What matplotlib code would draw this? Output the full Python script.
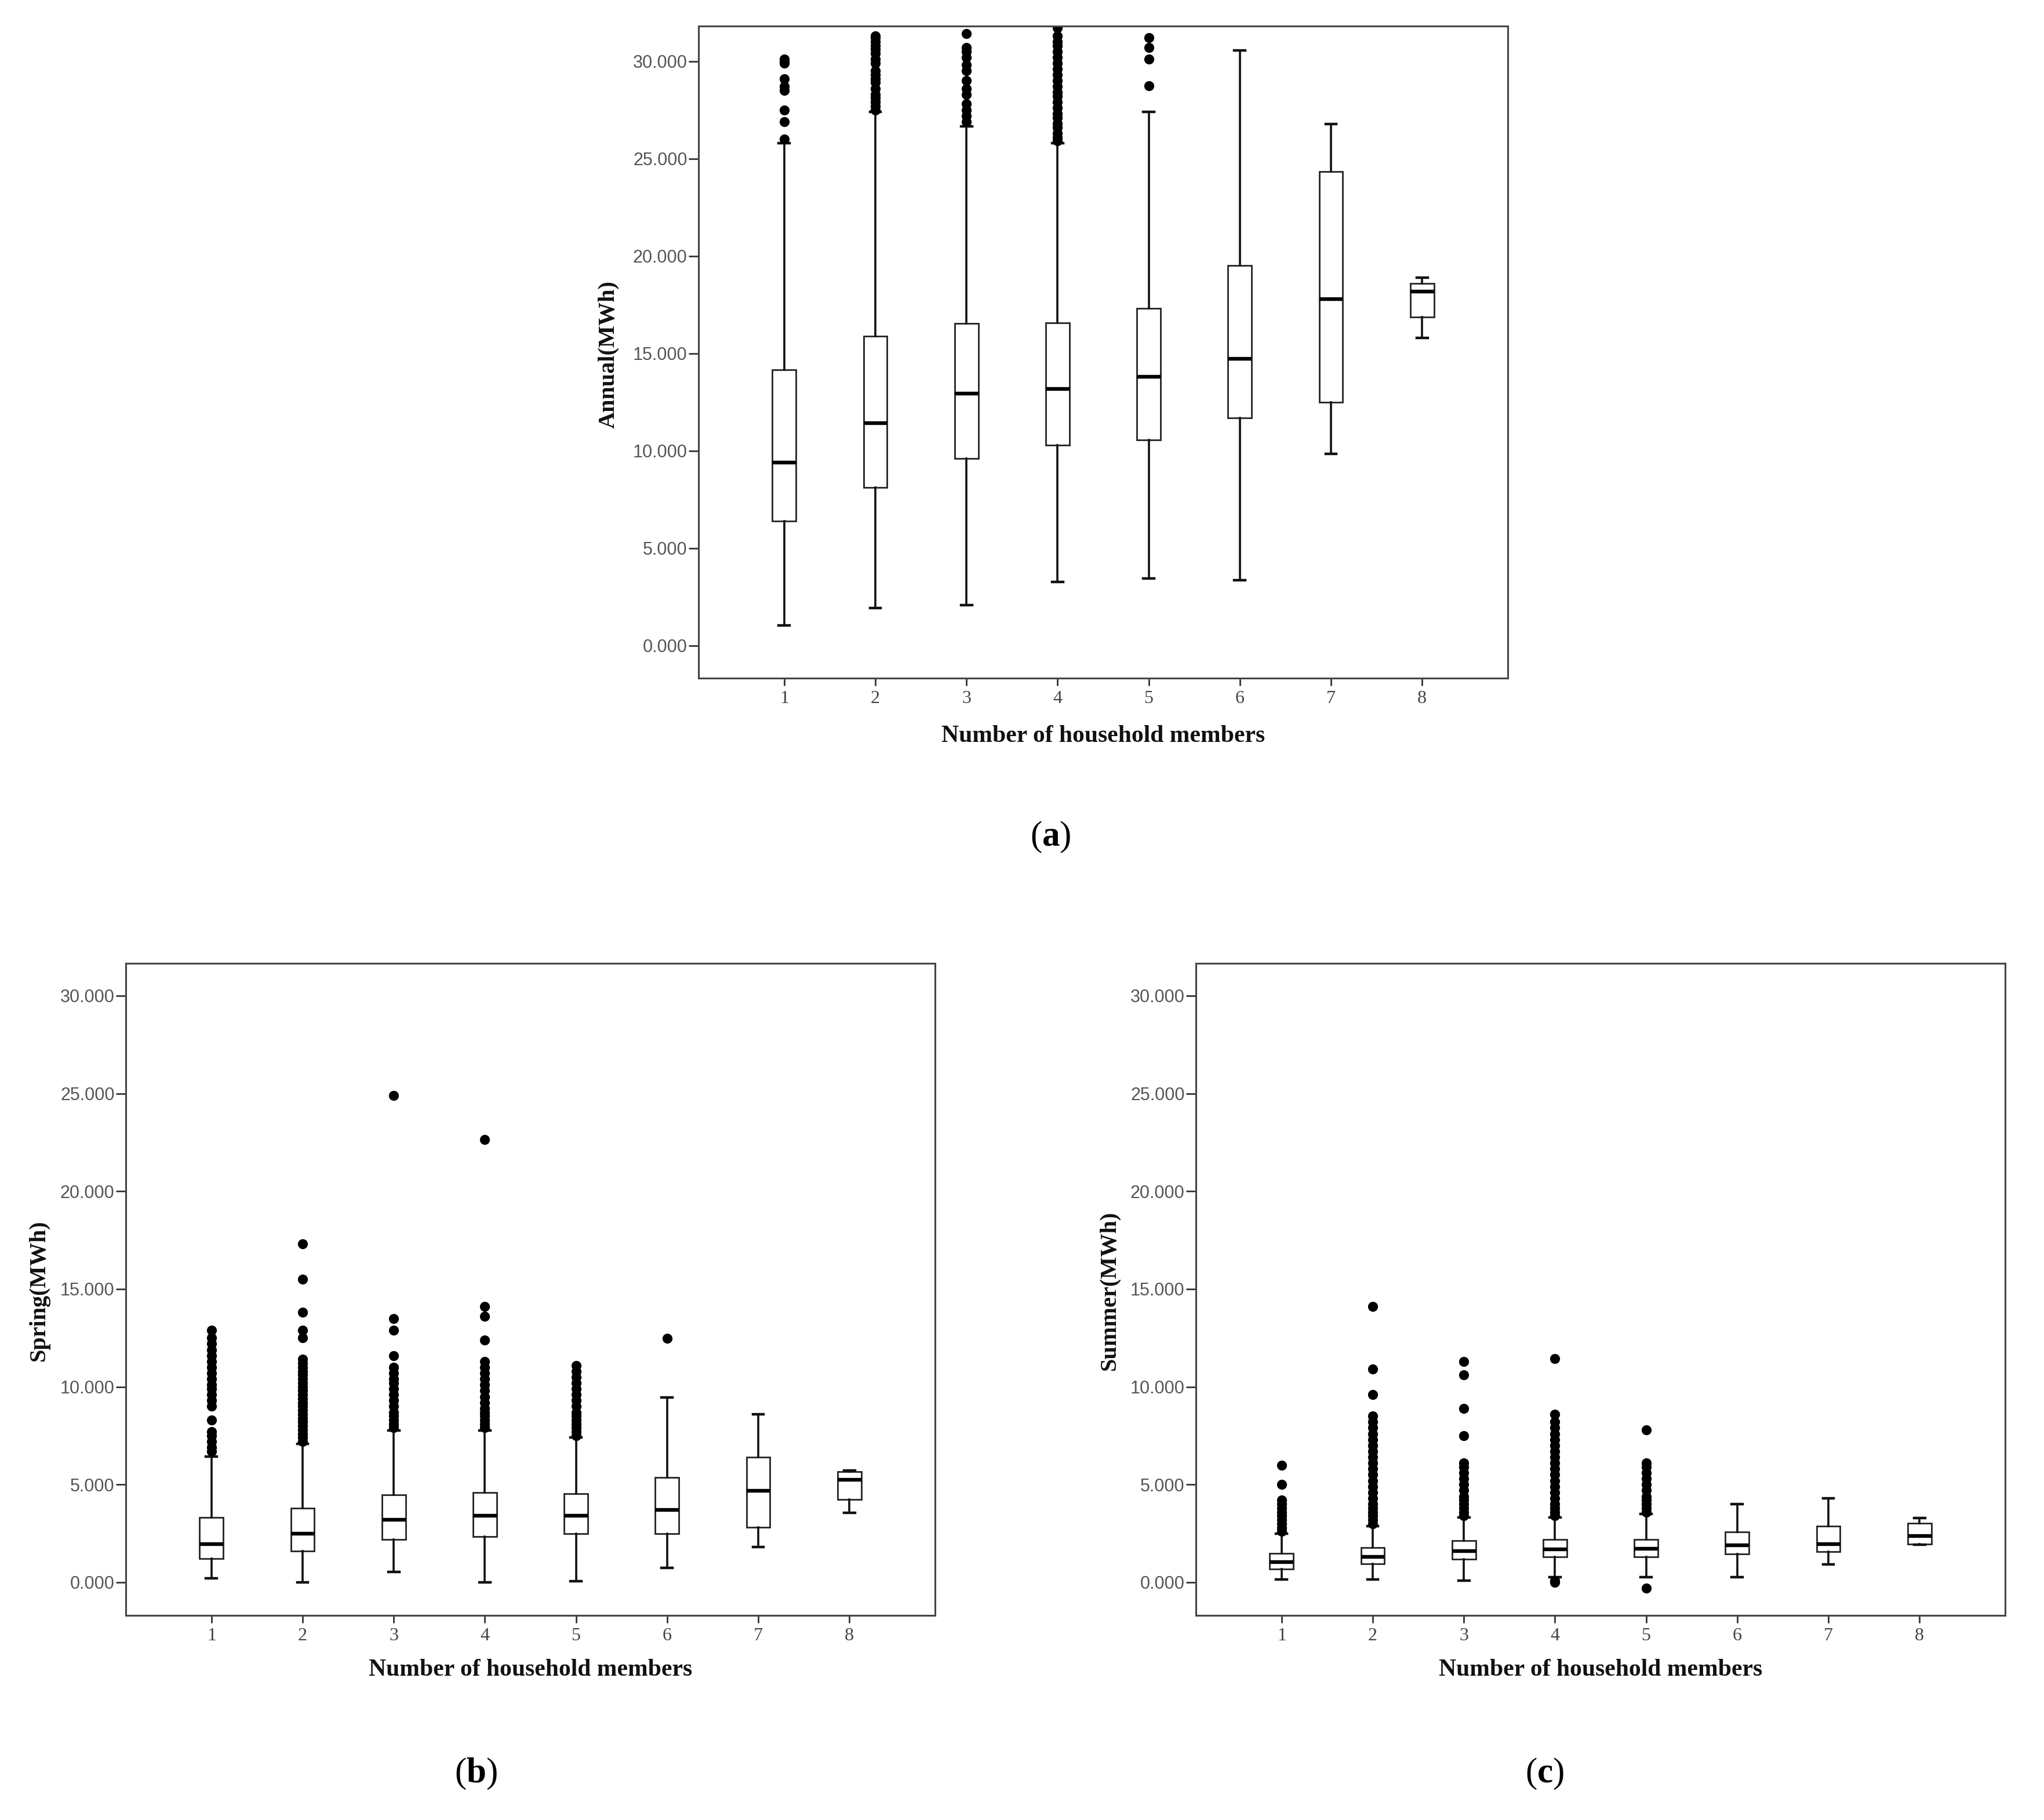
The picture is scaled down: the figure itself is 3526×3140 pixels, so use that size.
import matplotlib
matplotlib.use("Agg")
import matplotlib.pyplot as plt
from matplotlib.ticker import FormatStrFormatter

plt.rcParams['mathtext.fontset'] = 'custom'
plt.rcParams['mathtext.bf'] = 'Liberation Serif:bold'
plt.rcParams['mathtext.rm'] = 'Liberation Serif'

categories = [1, 2, 3, 4, 5, 6, 7, 8]
yticks = [0, 5, 10, 15, 20, 25, 30]

# ---- (a) Annual (MWh) ----
annual_whislo = [1.04, 1.92, 2.08, 3.28, 3.44, 3.37, 9.83, 15.78]
annual_q1 = [6.38, 8.13, 9.60, 10.30, 10.57, 11.70, 12.50, 16.87]
annual_med = [9.40, 11.43, 12.95, 13.18, 13.81, 14.72, 17.80, 18.16]
annual_q3 = [14.15, 15.89, 16.53, 16.57, 17.32, 19.52, 24.32, 18.59]
annual_whishi = [25.79, 27.39, 26.65, 25.79, 27.39, 30.54, 26.76, 18.88]
annual_fliers = [
    [26.0, 26.9, 27.5, 28.5, 28.7, 29.1, 29.9, 30.0, 30.1],
    [27.5, 27.7, 27.9, 28.1, 28.3, 28.6, 28.9, 29.1, 29.3, 29.5, 29.9,
     30.1, 30.4, 30.6, 30.8, 31.0, 31.2, 31.3],
    [26.9, 27.2, 27.5, 27.8, 28.3, 28.6, 29.0, 29.5, 29.8, 30.2, 30.5, 30.7, 31.4],
    [25.9, 26.1, 26.3, 26.6, 26.8, 27.1, 27.3, 27.6, 27.9, 28.2, 28.4, 28.7,
     29.0, 29.3, 29.6, 29.9, 30.2, 30.5, 30.8, 31.0, 31.3, 31.7],
    [28.75, 30.1, 30.7, 31.2],
    [], [], [],
]

# ---- (b) Spring (MWh) ----
spring_whislo = [0.20, 0.00, 0.52, 0.00, 0.05, 0.73, 1.81, 3.56]
spring_q1 = [1.22, 1.59, 2.18, 2.34, 2.49, 2.49, 2.83, 4.24]
spring_med = [1.95, 2.49, 3.20, 3.40, 3.40, 3.72, 4.69, 5.26]
spring_q3 = [3.33, 3.79, 4.47, 4.58, 4.54, 5.37, 6.39, 5.65]
spring_whishi = [6.44, 7.07, 7.76, 7.76, 7.41, 9.46, 8.59, 5.71]
spring_fliers = [
    [6.7, 6.9, 7.2, 7.5, 7.7, 8.3, 9.0, 9.3, 9.6, 9.9, 10.1, 10.4, 10.7, 11.0,
     11.3, 11.6, 11.9, 12.2, 12.5, 12.9],
    [7.2, 7.4, 7.6, 7.8, 8.0, 8.2, 8.4, 8.6, 8.8, 9.0, 9.2, 9.4, 9.6, 9.8, 10.0,
     10.2, 10.4, 10.6, 10.8, 11.0, 11.2, 11.4, 12.5, 12.9, 13.8, 15.5, 17.3],
    [7.9, 8.1, 8.3, 8.5, 8.7, 9.0, 9.3, 9.6, 9.9, 10.2, 10.4, 10.7, 11.0, 11.6,
     12.9, 13.5, 24.9],
    [7.9, 8.1, 8.3, 8.5, 8.7, 8.9, 9.2, 9.5, 9.8, 10.1, 10.4, 10.7, 11.0, 11.3,
     12.4, 13.6, 14.1, 22.65],
    [7.5, 7.7, 7.9, 8.1, 8.3, 8.5, 8.7, 9.0, 9.3, 9.6, 9.9, 10.2, 10.5, 10.8, 11.1],
    [12.47], [], [],
]

# ---- (c) Summer (MWh) ----
summer_whislo = [0.14, 0.14, 0.09, 0.27, 0.27, 0.27, 0.91, 1.92]
summer_q1 = [0.68, 0.95, 1.18, 1.29, 1.29, 1.45, 1.56, 1.95]
summer_med = [1.04, 1.29, 1.59, 1.70, 1.72, 1.90, 1.97, 2.36]
summer_q3 = [1.47, 1.79, 2.13, 2.18, 2.20, 2.59, 2.88, 3.02]
summer_whishi = [2.49, 2.88, 3.33, 3.33, 3.49, 4.01, 4.31, 3.30]
summer_fliers = [
    [2.6, 2.8, 3.0, 3.2, 3.4, 3.6, 3.8, 4.0, 4.2, 5.0, 6.0],
    [3.0, 3.2, 3.4, 3.6, 3.8, 4.0, 4.3, 4.6, 4.9, 5.2, 5.5, 5.8, 6.1, 6.4, 6.7,
     7.0, 7.3, 7.6, 7.9, 8.2, 8.5, 9.6, 10.9, 14.1],
    [3.4, 3.6, 3.8, 4.0, 4.2, 4.4, 4.7, 5.0, 5.3, 5.6, 5.9, 6.1, 7.5, 8.9, 10.6, 11.3],
    [3.4, 3.6, 3.8, 4.0, 4.3, 4.6, 4.9, 5.2, 5.5, 5.8, 6.1, 6.4, 6.7, 7.0, 7.3,
     7.6, 7.9, 8.2, 8.6, 11.45, 0.09, 0.0],
    [3.6, 3.8, 4.0, 4.2, 4.4, 4.7, 5.0, 5.3, 5.6, 5.9, 6.1, 7.8, -0.29],
    [], [], [],
]

W, H = 3526, 3140
DPI = 200
fig = plt.figure(figsize=(W / DPI, H / DPI), dpi=DPI)

ax_w, ax_h = 1396 / W, 1125 / H
ax_a = fig.add_axes([1205 / W, 1 - 1170 / H, ax_w, ax_h])
ax_b = fig.add_axes([217 / W, 1 - 2787 / H, ax_w, ax_h])
ax_c = fig.add_axes([2063 / W, 1 - 2787 / H, ax_w, ax_h])


def draw(ax, lo, q1, med, q3, hi, fl, ylim):
    stats = []
    for i in range(len(categories)):
        stats.append(dict(whislo=lo[i], q1=q1[i], med=med[i], q3=q3[i],
                          whishi=hi[i], fliers=fl[i]))
    ax.bxp(stats, positions=categories, widths=0.26, capwidths=0.12,
           showfliers=True, patch_artist=True,
           boxprops=dict(facecolor='white', edgecolor='#222222', linewidth=1.0),
           medianprops=dict(color='black', linewidth=2.3),
           whiskerprops=dict(color='#111111', linewidth=1.3),
           capprops=dict(color='#111111', linewidth=1.6),
           flierprops=dict(marker='o', markerfacecolor='black',
                           markeredgecolor='black', markersize=5.2,
                           linestyle='none'))
    ax.set_xlim(0.06, 8.94)
    ax.set_ylim(*ylim)
    ax.set_yticks(yticks)
    ax.yaxis.set_major_formatter(FormatStrFormatter('%.3f'))
    ax.set_xticks(categories)
    ax.set_xticklabels([str(c) for c in categories])
    ax.tick_params(axis='y', direction='out', length=6, width=1.0,
                   color='#333333', labelsize=11, labelcolor='#555555', pad=1)
    ax.tick_params(axis='x', direction='out', length=4.5, width=1.0,
                   color='#333333', labelsize=11.5, labelcolor='#444444', pad=3)
    for lab in ax.get_yticklabels():
        lab.set_family('Liberation Sans')
    for lab in ax.get_xticklabels():
        lab.set_family('Liberation Serif')
    for sp in ax.spines.values():
        sp.set_color('#444444')
        sp.set_linewidth(1.1)


draw(ax_a, annual_whislo, annual_q1, annual_med, annual_q3, annual_whishi,
     annual_fliers, (-1.67, 31.8))
draw(ax_b, spring_whislo, spring_q1, spring_med, spring_q3, spring_whishi,
     spring_fliers, (-1.69, 31.66))
draw(ax_c, summer_whislo, summer_q1, summer_med, summer_q3, summer_whishi,
     summer_fliers, (-1.69, 31.66))

lab_font = dict(family='Liberation Serif', weight='bold', color='#111111')

# x labels
fig.text((1205 + 698) / W, 1 - 1270 / H, 'Number of household members',
         ha='center', va='center', fontsize=15, **lab_font)
fig.text((217 + 698) / W, 1 - 2881 / H, 'Number of household members',
         ha='center', va='center', fontsize=15, **lab_font)
fig.text((2063 + 698) / W, 1 - 2881 / H, 'Number of household members',
         ha='center', va='center', fontsize=15, **lab_font)

# y labels
fig.text(1050 / W, 1 - 612 / H, 'Annual(MWh)', rotation=90,
         ha='center', va='center', fontsize=14.5, **lab_font)
fig.text(67 / W, 1 - 2226 / H, 'Spring(MWh)', rotation=90,
         ha='center', va='center', fontsize=14.5, **lab_font)
fig.text(1914 / W, 1 - 2226 / H, 'Summer(MWh)', rotation=90,
         ha='center', va='center', fontsize=14.5, **lab_font)

# panel labels
for x, y, s in [(1812, 1444, 'a'), (821, 3060, 'b'), (2665, 3060, 'c')]:
    fig.text(x / W, 1 - y / H, r'($\mathbf{' + s + r'}$)', ha='center', va='center',
             fontsize=22, family='Liberation Serif', color='black')

fig.savefig('out.png', dpi=DPI, facecolor='white')
